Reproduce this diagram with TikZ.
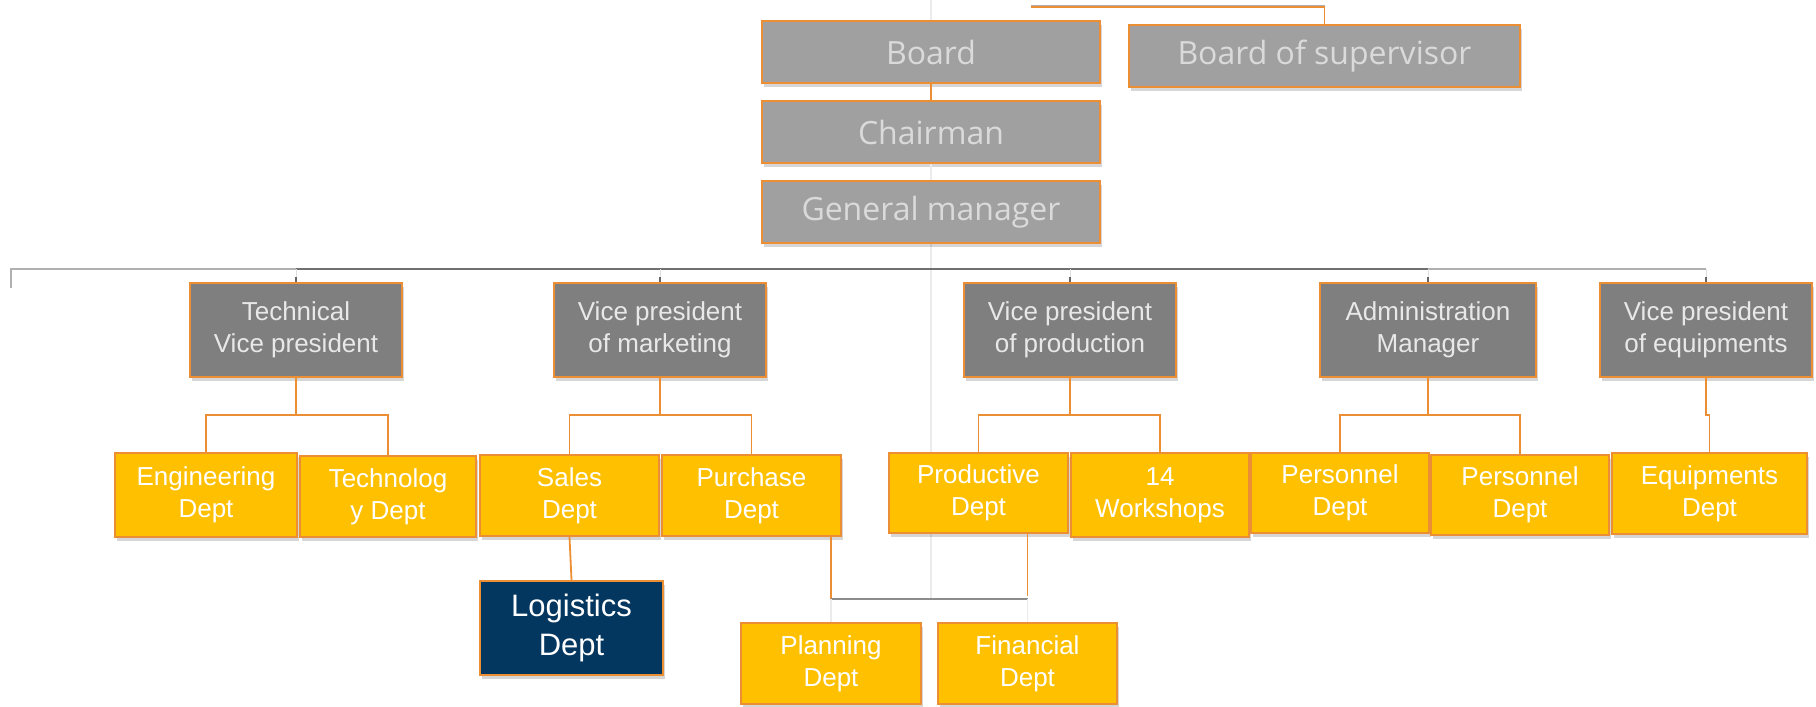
\documentclass[tikz,border=0pt]{standalone}
\usepackage{fontspec}
\setmainfont{Liberation Sans}
\newfontfamily\topfont{Open Sans}
\usetikzlibrary{shadows}
\definecolor{borderO}{HTML}{EC8F34}
\definecolor{topfill}{HTML}{A0A0A0}
\definecolor{lvfill}{HTML}{7F7F7F}
\definecolor{yel}{HTML}{FFC000}
\definecolor{navy}{HTML}{03375F}
\definecolor{toptext}{HTML}{DADADA}
\definecolor{lvtext}{HTML}{E8E8E8}
\definecolor{busdark}{HTML}{707070}
\definecolor{buslight}{HTML}{B0B0B0}
\tikzset{
  boxshadow/.style={drop shadow={shadow xshift=1.5pt,shadow yshift=-4pt,fill=black,opacity=0.16}},
  basebox/.style={draw=borderO,line width=2.2pt,boxshadow,inner sep=0pt,align=center},
  topbox/.style={basebox,fill=topfill,text=toptext,minimum height=62,font=\topfont\fontsize{32}{38}\selectfont},
  lvbox/.style={basebox,fill=lvfill,text=lvtext,minimum height=94,font=\fontsize{26}{32}\selectfont},
  deptbox/.style={basebox,fill=yel,text=white,font=\fontsize{26}{32}\selectfont},
  navybox/.style={basebox,fill=navy,text=white,font=\fontsize{31}{39}\selectfont},
  oc/.style={draw=borderO,line width=1.8pt},
  faint/.style={draw=black!8,line width=1.2pt},
  lbus/.style={draw=buslight,line width=2pt},
  dbus/.style={draw=busdark,line width=2.4pt},
}
\begin{document}
\begin{tikzpicture}[x=1pt,y=-1pt]
\useasboundingbox (0,0) rectangle (1816,707);
% faint centre line
\coordinate (ctop) at (931,0);
\coordinate (cbot) at (931,599);
\draw[faint] (ctop) -- (cbot);
% top boxes
\node[topbox,minimum width=338] (board) at (931,52) {Board};
\node[topbox,minimum width=391] (sup) at (1324.5,56) {Board of supervisor};
\node[topbox,minimum width=338] (chair) at (931,132) {Chairman};
\node[topbox,minimum width=338] (gm) at (931,212) {General manager};
% level 2
\node[lvbox,minimum width=212] (tech) at (296,330) {Technical\\Vice president};
\node[lvbox,minimum width=212] (mkt) at (660,330) {Vice president\\of marketing};
\node[lvbox,minimum width=212] (prod) at (1070,330) {Vice president\\of production};
\node[lvbox,minimum width=216] (adm) at (1428,330) {Administration\\Manager};
\node[lvbox,minimum width=212] (eqp) at (1706,330) {Vice president\\of equipments};
% level 3
\node[deptbox,minimum width=182,minimum height=84] (eng) at (206,495) {Engineering\\Dept};
\node[deptbox,minimum width=176,minimum height=81] (tec) at (388,496.5) {Technolog\\y Dept};
\node[deptbox,minimum width=179,minimum height=81] (sal) at (569.5,495.5) {Sales\\Dept};
\node[deptbox,minimum width=179,minimum height=81] (pur) at (751.5,495.5) {Purchase\\Dept};
\node[deptbox,minimum width=179,minimum height=80] (pro) at (978.5,493) {Productive\\Dept};
\node[deptbox,minimum width=178,minimum height=84] (ws) at (1160,495) {14\\Workshops};
\node[deptbox,minimum width=178,minimum height=80] (per1) at (1340,493) {Personnel\\Dept};
\node[deptbox,minimum width=178,minimum height=80] (per2) at (1520,495) {Personnel\\Dept};
\node[deptbox,minimum width=195,minimum height=81] (eqd) at (1709.5,493.5) {Equipments\\Dept};
% level 4
\node[navybox,minimum width=183,minimum height=94] (log) at (571.5,628) {Logistics\\Dept};
\node[deptbox,minimum width=180,minimum height=81] (pla) at (831,663.5) {Planning\\Dept};
\node[deptbox,minimum width=179,minimum height=81] (fin) at (1027.5,663.5) {Financial\\Dept};
% top connectors
\coordinate (tl) at (1031,7);
\draw[draw=buslight,line width=1pt] ([yshift=1.8pt]tl) -- ([yshift=1.8pt]tl -| sup.north);
\draw[oc] (tl) -| (sup.north);
\draw[oc] (board.south) -- (chair.north);
\draw[faint] (chair.south) -- (gm.north);
% bus
\coordinate (busL) at (11,269);
\coordinate (busT) at (11,288);
\draw[lbus] (busT) -- (busL) -- (tech.north |- busL);
\draw[dbus] (tech.north |- busL) -- (adm.north |- busL);
\draw[lbus] (adm.north |- busL) -- (eqp.north |- busL);
\foreach \n in {tech,mkt,prod,adm,eqp}{
  \draw[draw=black!12,line width=1pt] (\n.north |- busL) -- (\n.north);
  \draw[draw=black!60,line width=1.2pt] ([yshift=5pt]\n.north) -- (\n.north);
}
% level 3 connectors
\coordinate (l3) at (0,415);
\draw[oc] (tech.south) -- (tech.south |- l3);
\draw[oc] (eng.north) |- (tec.north |- l3) -- (tec.north);
\draw[oc] (mkt.south) -- (mkt.south |- l3);
\draw[oc] (sal.north) |- (pur.north |- l3) -- (pur.north);
\draw[oc] (prod.south) -- (prod.south |- l3);
\draw[oc] (pro.north) |- (ws.north |- l3) -- (ws.north);
\draw[oc] (adm.south) -- (adm.south |- l3);
\draw[oc] (per1.north) |- (per2.north |- l3) -- (per2.north);
\draw[oc] (eqp.south) -- (eqp.south |- l3) -| (eqd.north);
% level 4 connectors
\draw[oc] (sal.south) -- (log.north);
\coordinate (hb) at (0,599);
\draw[oc] (pur.south -| pla.north) -- ++(0,74);
\draw[oc] (pro.south -| fin.north) -- ++(0,62);
\draw[draw=black!45,line width=1.5pt] (pla.north |- hb) -- (fin.north |- hb);
\draw[faint] (pla.north |- hb) -- (pla.north);
\draw[faint] (fin.north |- hb) -- (fin.north);
\end{tikzpicture}
\end{document}
